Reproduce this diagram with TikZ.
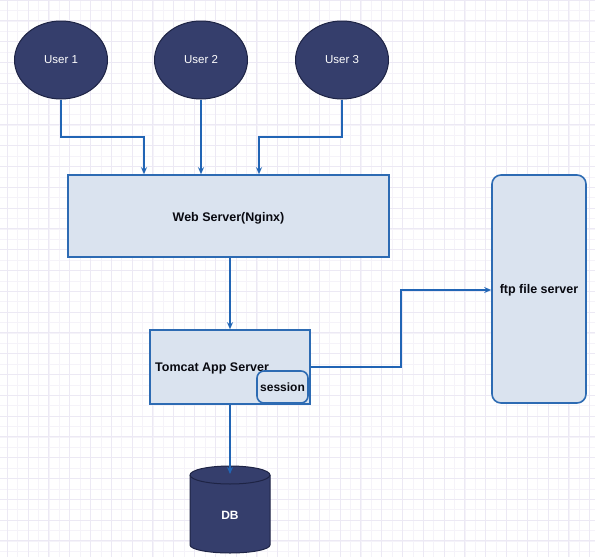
\documentclass[tikz,border=0pt]{standalone}
\usepackage{fontspec}
\setmainfont{Liberation Sans}
\usetikzlibrary{shapes.geometric,arrows.meta,calc}
\definecolor{navy}{HTML}{353E6C}
\definecolor{navyedge}{HTML}{1E2445}
\definecolor{boxfill}{HTML}{DAE3EF}
\definecolor{boxedge}{HTML}{2D6BB3}
\definecolor{arrowc}{HTML}{2165B5}
\definecolor{gridmaj}{HTML}{ECE9F4}
\definecolor{gridmin}{HTML}{F5F3F9}
\tikzset{
  userell/.style={ellipse, draw=navyedge, fill=navy, line width=1pt, minimum width=93pt, minimum height=78pt, inner sep=0pt, text=white, font=\fontsize{11.5}{13}\selectfont},
  srvbox/.style={rectangle, draw=boxedge, fill=boxfill, line width=1.6pt, inner sep=0pt},
  conn/.style={draw=arrowc, line width=1.6pt, -{Stealth[length=7pt,width=6pt]}},
  lbl/.style={font=\bfseries\fontsize{12.5}{14}\selectfont, text=black!85!navy},
}
\begin{document}
\begin{tikzpicture}[x=1pt,y=-1pt]
\useasboundingbox (0,0) rectangle (595,557);
\fill[white] (0,0) rectangle (595,557);
% grid
\foreach \i in {0,...,58} {
  \draw[gridmin, line width=0.5pt] (7.3+\i*10.4-10.4,0) -- (7.3+\i*10.4-10.4,557);
}
\foreach \i in {0,...,54} {
  \draw[gridmin, line width=0.5pt] (0,\i*10.4) -- (595,\i*10.4);
}
\foreach \i in {0,...,29} {
  \draw[gridmaj, line width=1pt] (7.3+\i*20.8,0) -- (7.3+\i*20.8,557);
}
\foreach \i in {0,...,27} {
  \draw[gridmaj, line width=1pt] (0,\i*20.8) -- (595,\i*20.8);
}
% users
\node[userell] (u1) at (61,60) {User 1};
\node[userell] (u2) at (201,60) {User 2};
\node[userell] (u3) at (342,60) {User 3};
% web server
\node[srvbox, minimum width=321pt, minimum height=82pt] (web) at (228.5,216) {};
\node[lbl, inner sep=0pt] (weblbl) at (228.5,218) {Web Server(Nginx)};
% tomcat
\node[srvbox, minimum width=160pt, minimum height=74pt] (tomcat) at (230,367) {};
\node[lbl, anchor=west, inner sep=0pt] (tomcatlbl) at (155,368) {Tomcat App Server};
\node[draw=boxedge, fill=boxfill, line width=1.6pt, rounded corners=7pt, minimum width=51pt, minimum height=32pt, inner sep=0pt, lbl, font=\bfseries\fontsize{12}{14}\selectfont] (session) at (282.5,387) {session};
% ftp
\node[srvbox, rounded corners=9pt, minimum width=94pt, minimum height=228pt] (ftp) at (539,289) {};
\node[lbl, inner sep=0pt] (ftplbl) at (539,290) {ftp file server};
% DB cylinder
\fill[navy, draw=navyedge, line width=1pt] (190,475) -- (190,545) arc[start angle=180, end angle=360, x radius=40, y radius=-8] -- (270,475) arc[start angle=0, end angle=180, x radius=40, y radius=-9] -- cycle;
\draw[navyedge, line width=1pt] (190,475) arc[start angle=180, end angle=360, x radius=40, y radius=-9];
\node[inner sep=0pt, text=white, font=\bfseries\fontsize{12}{14}\selectfont] (db) at (230,515) {DB};
% connectors
\coordinate (k1) at (144,137);
\coordinate (k3) at (259,137);
\coordinate (kf) at (401,290);
\coordinate (dbtop) at (230,474);
\draw[conn] (u1.south) |- (k1) -- (k1 |- web.north);
\draw[conn] (u2.south) -- (u2.south |- web.north);
\draw[conn] (u3.south) |- (k3) -- (k3 |- web.north);
\draw[conn] (web.south -| tomcat.north) -- (tomcat.north);
\draw[conn] (tomcat.east) -| (kf) -- (kf -| ftp.west);
\draw[conn] (tomcat.south) -- (dbtop);
\end{tikzpicture}
\end{document}
